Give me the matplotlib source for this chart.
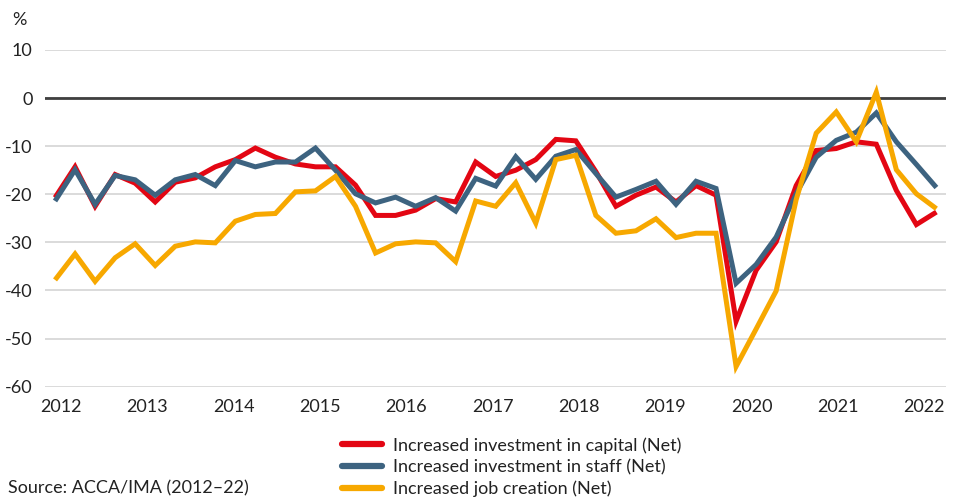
import matplotlib
matplotlib.use("Agg")
import matplotlib.pyplot as plt
from matplotlib.lines import Line2D

plt.rcParams['font.family'] = ['Lato', 'DejaVu Sans']
plt.rcParams['axes.unicode_minus'] = False

years = ["2012", "2013", "2014", "2015", "2016", "2017", "2018", "2019", "2020", "2021", "2022"]

capital = [-20.7, -14.3, -22.5, -15.9, -17.7, -21.6, -17.5, -16.6, -14.3, -12.8,
           -10.4, -12.3, -13.7, -14.3, -14.3, -18.1, -24.4, -24.4, -23.3, -20.9,
           -21.6, -13.3, -16.3, -15.0, -12.8, -8.6, -8.9, -15.3, -22.5, -20.2,
           -18.5, -21.6, -18.2, -20.2, -46.4, -35.8, -29.9, -18.2, -10.9, -10.5,
           -9.1, -9.6, -19.2, -26.3, -23.7]
staff = [-21.4, -14.9, -22.1, -16.1, -17.0, -20.2, -17.0, -15.9, -18.2, -13.0,
         -14.3, -13.3, -13.3, -10.4, -15.0, -19.9, -21.8, -20.6, -22.5, -20.7,
         -23.5, -16.7, -18.3, -12.2, -16.9, -12.1, -10.7, -15.7, -20.6, -19.0,
         -17.3, -22.1, -17.3, -18.8, -38.5, -34.6, -28.9, -19.9, -12.3, -8.8,
         -7.1, -3.1, -9.1, -13.8, -18.6]
jobs = [-37.8, -32.4, -38.1, -33.2, -30.3, -34.8, -30.8, -29.9, -30.1, -25.6,
        -24.2, -24.0, -19.5, -19.3, -16.3, -22.5, -32.2, -30.3, -29.9, -30.1,
        -34.0, -21.4, -22.5, -17.6, -26.0, -12.8, -11.9, -24.4, -28.1, -27.6,
        -25.1, -29.0, -28.1, -28.1, -55.8, -48.0, -40.1, -21.1, -7.3, -2.9,
        -9.1, 1.2, -14.9, -19.9, -23.0]

labels = ["Increased investment in capital (Net)",
          "Increased investment in staff (Net)",
          "Increased job creation (Net)"]
colors = ["#e30613", "#3d6380", "#f7a800"]

fig = plt.figure(figsize=(9.62, 4.99), dpi=100)
ax = fig.add_axes([0.0468, 0.225, 0.937, 0.675])

x = list(range(len(capital)))
for series, c in zip([capital, staff, jobs], colors):
    ax.plot(x, series, color=c, lw=3.6, solid_joinstyle='miter', solid_capstyle='butt')

ax.set_xlim(-0.5, len(capital) - 0.5)
ax.set_ylim(-60, 10)
ax.set_yticks(range(-60, 11, 10))
ax.yaxis.grid(True, color="#d4d4d4", lw=1.2)
ax.set_axisbelow(True)
ax.axhline(0, color="#404040", lw=2, zorder=1)

tick_pos = [0.3 + k * 4.31 for k in range(len(years))]
ax.set_xticks(tick_pos)
ax.set_xticklabels(years)
ax.tick_params(length=0, labelsize=13, colors="#222222")
ax.tick_params(axis='x', pad=9)
ax.tick_params(axis='y', pad=9)
for s in ax.spines.values():
    s.set_visible(False)

fig.text(12 / 962, 1 - 20 / 499, "%", fontsize=13, color="#222222", va='center')

handles = [Line2D([0], [0], color=c, lw=4.5, solid_capstyle='round') for c in colors]
fig.legend(handles, labels, loc='upper left', bbox_to_anchor=(333 / 962, 1 - 428 / 499),
           frameon=False, fontsize=13, handlelength=2.2, handletextpad=0.6,
           labelspacing=0.3, borderpad=0, labelcolor="#222222")

fig.text(8 / 962, 1 - 488 / 499, "Source: ACCA/IMA (2012\u201322)", fontsize=13,
         color="#222222", va='center')

fig.savefig("out.png", dpi=100)
